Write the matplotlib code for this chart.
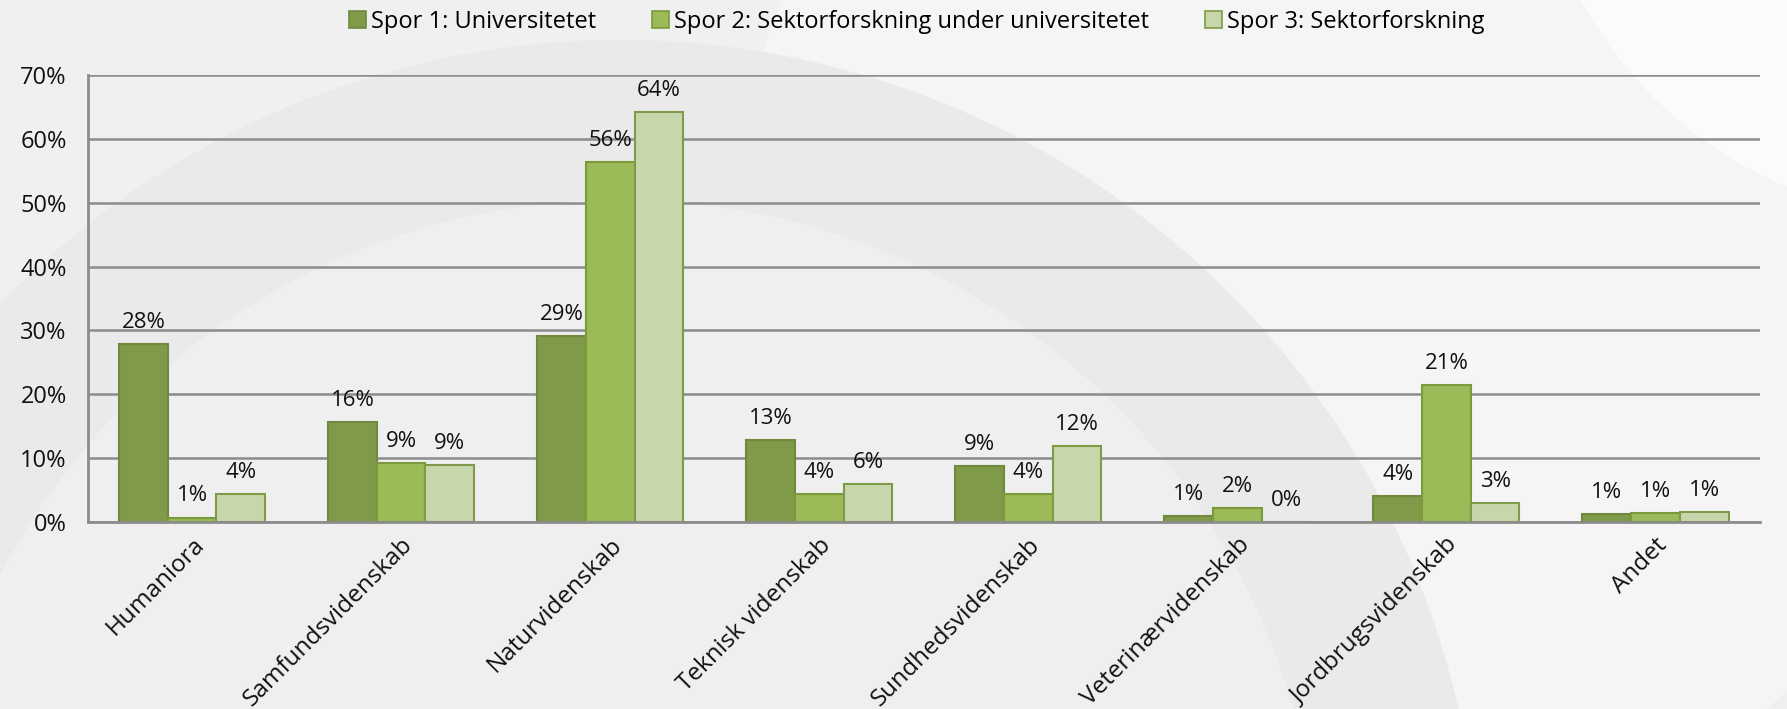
import matplotlib.pyplot as plt
import matplotlib.patches as mpatches
import numpy as np

categories = ["Humaniora", "Samfundsvidenskab", "Naturvidenskab", "Teknisk videnskab",
              "Sundhedsvidenskab", "Veterinærvidenskab", "Jordbrugsvidenskab", "Andet"]
series_names = ["Spor 1: Universitetet",
                "Spor 2: Sektorforskning under universitetet",
                "Spor 3: Sektorforskning"]
spor1 = [27.8, 15.7, 29.1, 12.8, 8.7, 0.9, 4.0, 1.2]
spor2 = [0.7, 9.3, 56.4, 4.4, 4.4, 2.2, 21.4, 1.4]
spor3 = [4.4, 8.9, 64.2, 6.0, 11.9, 0.0, 3.0, 1.5]
labels1 = ["28%", "16%", "29%", "13%", "9%", "1%", "4%", "1%"]
labels2 = ["1%", "9%", "56%", "4%", "4%", "2%", "21%", "1%"]
labels3 = ["4%", "9%", "64%", "6%", "12%", "0%", "3%", "1%"]
yticks = [0, 10, 20, 30, 40, 50, 60, 70]

fills = ["#7f9a48", "#9bbb59", "#c7d7ab"]
edges = ["#71893f", "#7a9a3c", "#7f9a48"]

plt.rcParams['font.family'] = ['Open Sans', 'DejaVu Sans']

fig = plt.figure(figsize=(17.87, 7.09), dpi=100)
fig.patch.set_facecolor("#f0f0f0")

# faint background arcs (watermark)
bg = fig.add_axes([0, 0, 1, 1], zorder=-10)
bg.set_xlim(0, 1787)
bg.set_ylim(709, 0)
bg.axis("off")
bg.add_patch(mpatches.Circle((1350, 250), 620, facecolor="#f5f5f5", edgecolor="none"))
bg.add_patch(mpatches.Circle((620, 900), 860, facecolor="#eaeaea", edgecolor="none"))
bg.add_patch(mpatches.Circle((620, 900), 700, facecolor="#efefef", edgecolor="none"))
bg.add_patch(mpatches.Circle((1950, -200), 420, facecolor="#fbfbfb", edgecolor="none"))

ax = fig.add_axes([87.5 / 1787, 1 - 522 / 709, (1760 - 87.5) / 1787, (522 - 75) / 709])
ax.patch.set_alpha(0)

x = np.arange(len(categories))
w = 0.233
data = [spor1, spor2, spor3]
labs = [labels1, labels2, labels3]
for i, (vals, lab) in enumerate(zip(data, labs)):
    pos = x + (i - 1) * w
    ax.bar(pos, vals, w, color=fills[i], edgecolor=edges[i], linewidth=1.5,
           label=series_names[i], zorder=3)
    for p, v, t in zip(pos, vals, lab):
        ax.annotate(t, (p, v), xytext=(0, 8), textcoords="offset points",
                    ha="center", va="bottom", fontsize=16, color="#111111")

ax.set_xlim(-0.5, len(categories) - 0.5)
ax.set_ylim(0, 70)
ax.set_yticks(yticks)
ax.set_yticklabels([f"{t}%" for t in yticks], fontsize=17)
ax.set_xticks(x)
ax.set_xticklabels(categories, rotation=45, ha="right", rotation_mode="anchor",
                   fontsize=17.5)
ax.tick_params(axis="both", length=0, colors="#111111")
ax.tick_params(axis="y", pad=15)
ax.tick_params(axis="x", pad=8)
ax.grid(axis="y", color="#8c8c8c", linewidth=1.8, zorder=0)
for s in ["top", "right"]:
    ax.spines[s].set_visible(False)
for s in ["left", "bottom"]:
    ax.spines[s].set_color("#8c8c8c")
    ax.spines[s].set_linewidth(2)
    ax.spines[s].set_zorder(4)

handles = [mpatches.Patch(facecolor=fills[i], edgecolor=edges[i], linewidth=1.2)
           for i in range(3)]
fig.legend(handles, series_names, loc="center", bbox_to_anchor=(0.513, 1 - 22 / 709),
           ncol=3, frameon=False, fontsize=17, handlelength=0.7, handleheight=0.7,
           handletextpad=0.2, columnspacing=2.4)

fig.savefig("out.png", dpi=100, facecolor=fig.get_facecolor())
